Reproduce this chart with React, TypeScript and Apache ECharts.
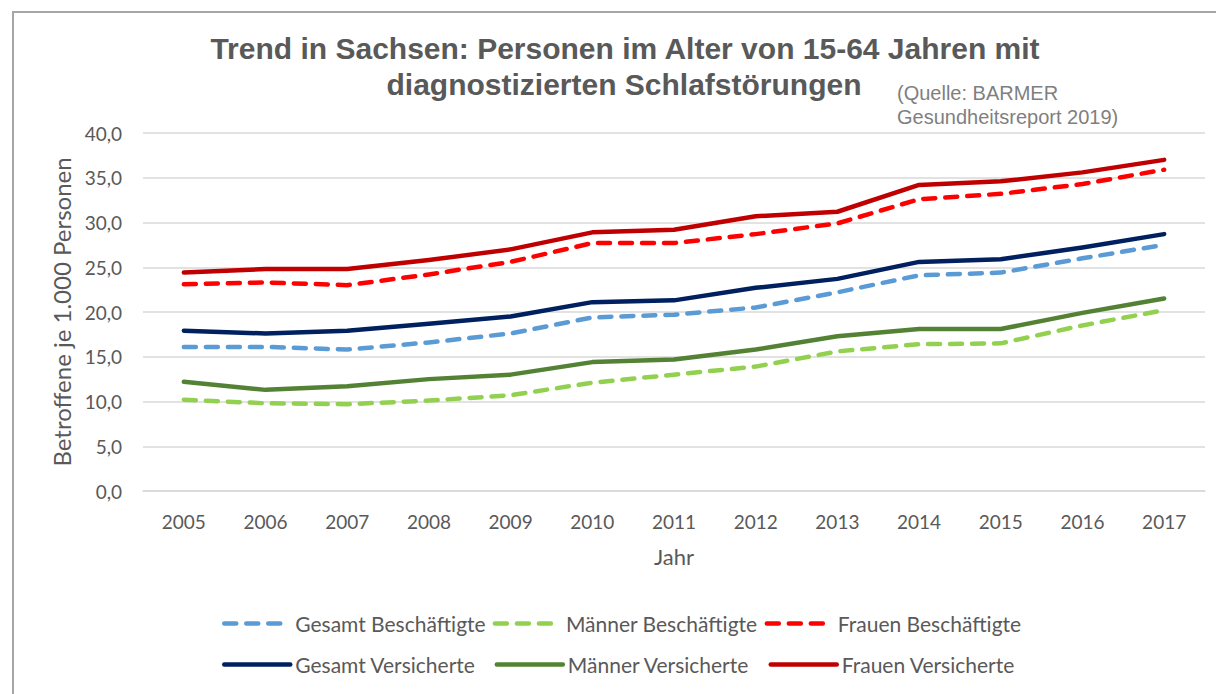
import React, { useEffect, useRef } from "react";
import * as echarts from "echarts";

const years = ["2005","2006","2007","2008","2009","2010","2011","2012","2013","2014","2015","2016","2017"];
const gesamtBesch = [16.1, 16.1, 15.8, 16.6, 17.6, 19.4, 19.7, 20.5, 22.2, 24.1, 24.4, 26.0, 27.5];
const maennerBesch = [10.2, 9.8, 9.7, 10.1, 10.7, 12.1, 13.0, 13.9, 15.6, 16.4, 16.5, 18.5, 20.2];
const frauenBesch = [23.1, 23.3, 23.0, 24.2, 25.6, 27.7, 27.7, 28.7, 29.9, 32.6, 33.2, 34.3, 35.9];
const gesamtVers = [17.9, 17.6, 17.9, 18.7, 19.5, 21.1, 21.3, 22.7, 23.7, 25.6, 25.9, 27.2, 28.7];
const maennerVers = [12.2, 11.3, 11.7, 12.5, 13.0, 14.4, 14.7, 15.8, 17.3, 18.1, 18.1, 19.9, 21.5];
const frauenVers = [24.4, 24.8, 24.8, 25.8, 27.0, 28.9, 29.2, 30.7, 31.2, 34.2, 34.6, 35.6, 37.0];

const yTicks = { min: 0, max: 40, interval: 5 };

const titleLines = ["Trend in Sachsen: Personen im Alter von 15-64 Jahren mit", "diagnostizierten Schlafstörungen"];
const sourceLines = ["(Quelle: BARMER", "Gesundheitsreport 2019)"];

const legendRow1 = ["Gesamt Beschäftigte", "Männer Beschäftigte", "Frauen Beschäftigte"];
const legendRow2 = ["Gesamt Versicherte", "Männer Versicherte", "Frauen Versicherte"];

export default function App() {
  const ref = useRef<HTMLDivElement>(null);
  useEffect(() => {
    if (!ref.current) return;
    const chart = echarts.init(ref.current, null, { renderer: "svg" });
    const axisFont = "Lato, 'Open Sans', sans-serif";
    const dashed = (name: string, data: number[], color: string) => ({
      name, type: "line", data, symbol: "none", smooth: false,
      lineStyle: { color, width: 4.5, type: [12, 10], cap: "round", join: "round" },
      itemStyle: { color },
    });
    const solid = (name: string, data: number[], color: string) => ({
      name, type: "line", data, symbol: "none", smooth: false,
      lineStyle: { color, width: 4.5, type: "solid", cap: "round", join: "round" },
      itemStyle: { color },
    });
    const legendCommon = {
      orient: "horizontal",
      itemWidth: 66,
      itemHeight: 10,
      selectedMode: false,
      itemStyle: { opacity: 0 },
      lineStyle: { width: 4.5 },
      textStyle: { fontFamily: axisFont, fontSize: 21, color: "#595959" },
    };
    chart.setOption({
      animation: false,
      backgroundColor: "#ffffff",
      grid: { left: 143, right: 11, top: 133, bottom: 203, containLabel: false },
      xAxis: {
        type: "category",
        data: years,
        boundaryGap: true,
        axisLine: { show: true, lineStyle: { color: "#d9d9d9", width: 1.5 } },
        axisTick: { show: false },
        axisLabel: { color: "#595959", fontFamily: axisFont, fontSize: 19, margin: 21 },
        name: "Jahr",
        nameLocation: "middle",
        nameGap: 54,
        nameTextStyle: { color: "#595959", fontFamily: axisFont, fontSize: 22 },
      },
      yAxis: {
        type: "value",
        min: yTicks.min,
        max: yTicks.max,
        interval: yTicks.interval,
        axisLine: { show: false },
        axisTick: { show: false },
        splitLine: { lineStyle: { color: "#d9d9d9", width: 1.5 } },
        axisLabel: {
          color: "#595959", fontFamily: axisFont, fontSize: 19, margin: 21,
          formatter: (v: number) => v.toFixed(1).replace(".", ","),
        },
        name: "Betroffene je 1.000 Personen",
        nameLocation: "middle",
        nameGap: 69,
        nameRotate: 90,
        nameTextStyle: { color: "#595959", fontFamily: axisFont, fontSize: 24 },
      },
      legend: [
        { ...legendCommon, itemGap: 7, data: legendRow1, left: 217, top: 608 },
        { ...legendCommon, itemGap: 19, data: legendRow2, left: 217, top: 649 },
      ],
      graphic: [
        {
          type: "polyline",
          shape: { points: [[13, 700], [13, 12], [1220, 12]] },
          style: { stroke: "#a6a6a6", lineWidth: 2, fill: "none" },
          silent: true,
        },
        {
          type: "text", x: 625, y: 48,
          style: { text: titleLines[0], fill: "#595959", font: "bold 30px 'Liberation Sans', Arial, sans-serif", textAlign: "center", textVerticalAlign: "middle" },
        },
        {
          type: "text", x: 624, y: 84,
          style: { text: titleLines[1], fill: "#595959", font: "bold 30px 'Liberation Sans', Arial, sans-serif", textAlign: "center", textVerticalAlign: "middle" },
        },
        {
          type: "text", x: 897, y: 93,
          style: { text: sourceLines[0], fill: "#7f7f7f", font: "20px 'Liberation Sans', Arial, sans-serif", textAlign: "left", textVerticalAlign: "middle" },
        },
        {
          type: "text", x: 897, y: 117,
          style: { text: sourceLines[1], fill: "#7f7f7f", font: "20px 'Liberation Sans', Arial, sans-serif", textAlign: "left", textVerticalAlign: "middle" },
        },
      ],
      series: [
        dashed(legendRow1[0], gesamtBesch, "#5b9bd5"),
        dashed(legendRow1[1], maennerBesch, "#92d050"),
        dashed(legendRow1[2], frauenBesch, "#ff0000"),
        solid(legendRow2[0], gesamtVers, "#002060"),
        solid(legendRow2[1], maennerVers, "#548235"),
        solid(legendRow2[2], frauenVers, "#c00000"),
      ],
    });
    return () => chart.dispose();
  }, []);
  return (
    <div
      ref={ref}
      style={{ position: "absolute", left: 0, top: 0, width: 1216, height: 694, background: "#fff" }}
    />
  );
}
